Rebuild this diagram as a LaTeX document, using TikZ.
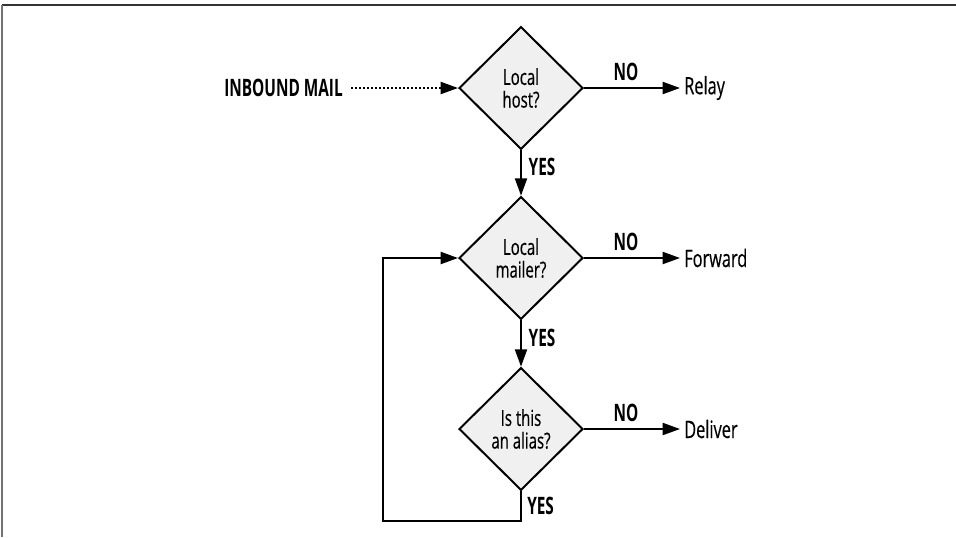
\documentclass[tikz,border=0pt]{standalone}
\usepackage{fontspec}
\setmainfont{Open Sans}[FakeStretch=0.68,FakeBold=0.4,
  BoldFeatures={FakeStretch=0.64,FakeBold=0}]
\usetikzlibrary{shapes.geometric,arrows.meta}
\begin{document}
\begin{tikzpicture}[x=0.75pt,y=-0.75pt,
  decision/.style={diamond,draw=black,line width=1.5pt,fill=gray!12,
    minimum width=93pt,minimum height=92pt,inner sep=0pt,aspect=1,
    align=center,font=\fontsize{16.5}{17}\selectfont},
  tip/.style={-{Triangle[length=13pt,width=9pt]}},
  flow/.style={line width=1.5pt,tip},
  label/.style={font=\fontsize{18}{18}\selectfont\bfseries,inner sep=0pt},
  target/.style={font=\fontsize{18}{18}\selectfont,inner sep=0pt,anchor=west},
  frame/.style={line width=1.3pt}]
\useasboundingbox (0,0) rectangle (956,537);
% page frame
\draw[frame,draw=black!80] (2,5) -- (956,5);
\draw[frame,draw=black!55] (2,5) -- (2,537);

% decisions
\node[decision] (host)   at (521,88)  {Local\\host?};
\node[decision] (mailer) at (521,258) {Local\\mailer?};
\node[decision] (alias)  at (521,429) {Is this\\an alias?};

% entry
\node[label,anchor=east] (inbound) at (343,88) {INBOUND MAIL};
\coordinate (dotstart) at (351,88);
\draw[line width=1.5pt,dash pattern=on 1.4pt off 1.6pt,tip] (dotstart) -- (host.west);

% outcomes
\node[target] (relay)   at (684,88)  {Relay};
\node[target] (forward) at (684,258) {Forward};
\node[target] (deliver) at (684,429) {Deliver};

\draw[flow,shorten >=3pt] (host.east) -- (relay.west)
  node[label,pos=0.42,above=4.5pt] {NO};
\draw[flow,shorten >=3pt] (mailer.east) -- (forward.west)
  node[label,pos=0.42,above=4.5pt] {NO};
\draw[flow,shorten >=3pt] (alias.east) -- (deliver.west)
  node[label,pos=0.42,above=4.5pt] {NO};

\draw[flow] (host.south) -- (mailer.north)
  node[label,pos=0.37,right=5pt] {YES};
\draw[flow] (mailer.south) -- (alias.north)
  node[label,pos=0.37,right=5pt] {YES};

% loop back from alias to mailer
\coordinate (loopA) at (521,521);
\coordinate (loopB) at (383,521);
\coordinate (loopC) at (383,258);
\draw[flow] (alias.south) -- (loopA) -- (loopB) -- (loopC) -- (mailer.west);
\node[label,anchor=west] (yesloop) at (527,506) {YES};
\end{tikzpicture}
\end{document}
